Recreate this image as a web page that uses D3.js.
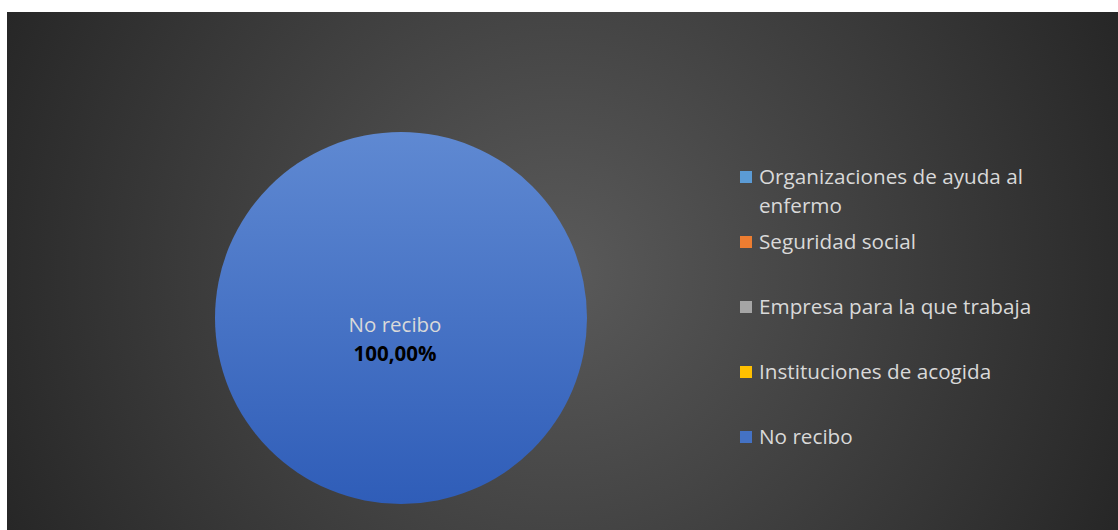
<!DOCTYPE html>
<meta charset="utf-8">
<script src="https://d3js.org/d3.v7.min.js"></script>
<style>
    body { margin: 0; background: #fff; }
    text { font-family: "Open Sans", Lato, sans-serif; }
</style>
<div id="vis"></div>
<script>
    // data
    var cats = ["Organizaciones de ayuda al enfermo", "Seguridad social", "Empresa para la que trabaja", "Instituciones de acogida", "No recibo"];
    var vals = [0, 0, 0, 0, 100];
    var cols = ["#5B9BD5", "#ED7D31", "#A5A5A5", "#FFC000", "#4472C4"];
    // legend lines (wrapped as in the original)
    var legLines = [["Organizaciones de ayuda al", "enfermo"], ["Seguridad social"], ["Empresa para la que trabaja"], ["Instituciones de acogida"], ["No recibo"]];

    var W = 1118, H = 530;
    var svg = d3.select("#vis").append("svg")
        .attr("width", W).attr("height", H);

    var defs = svg.append("defs");
    var bg = defs.append("radialGradient").attr("id", "bg")
        .attr("gradientUnits", "userSpaceOnUse")
        .attr("cx", 560).attr("cy", 270).attr("r", 620);
    bg.append("stop").attr("offset", "0").attr("stop-color", "#5a5a5a");
    bg.append("stop").attr("offset", "1").attr("stop-color", "#262626");

    var pg = defs.append("linearGradient").attr("id", "pg")
        .attr("x1", 0).attr("y1", 0).attr("x2", 0).attr("y2", 1);
    pg.append("stop").attr("offset", "0").attr("stop-color", "#5f89d2");
    pg.append("stop").attr("offset", "1").attr("stop-color", "#2f5db8");

    svg.append("rect")
        .attr("x", 7).attr("y", 12)
        .attr("width", W - 7).attr("height", H - 12)
        .attr("fill", "url(#bg)");

    // pie
    var cx = 401, cy = 318, r = 186;
    var pie = d3.pie().sort(null).value(function (d) { return d; });
    var arc = d3.arc().innerRadius(0).outerRadius(r);
    var g = svg.append("g").attr("transform", "translate(" + cx + "," + cy + ")");
    var arcs = pie(vals);
    g.selectAll("path")
        .data(arcs.filter(function (d) { return d.value > 0; }))
        .enter().append("path")
        .attr("d", arc)
        .attr("fill", function (d) { return d.index == 4 ? "url(#pg)" : cols[d.index]; });

    // slice label
    var fmt = function (v) { return d3.format(".2f")(v).replace(".", ",") + "%"; };
    var tot = d3.sum(vals);
    arcs.filter(function (d) { return d.value > 0; }).forEach(function (d) {
        var p = d.endAngle - d.startAngle >= 2 * Math.PI - 1e-6 ? [-6, 0] : arc.centroid(d);
        g.append("text")
            .attr("x", p[0]).attr("y", p[1] + 14)
            .attr("text-anchor", "middle")
            .attr("font-size", 20.5)
            .attr("fill", "#d9d9d9")
            .text(cats[d.index]);
        g.append("text")
            .attr("x", p[0]).attr("y", p[1] + 43)
            .attr("text-anchor", "middle")
            .attr("font-size", 20.5)
            .attr("font-weight", "bold")
            .attr("fill", "#000")
            .text(fmt(d.value / tot * 100));
    });

    // legend
    var ly = d3.scalePoint().domain(d3.range(cats.length)).range([177, 437]);
    var leg = svg.append("g");
    cats.forEach(function (c, i) {
        var y = ly(i);
        leg.append("rect")
            .attr("x", 740).attr("y", y - 6)
            .attr("width", 12).attr("height", 12)
            .attr("fill", cols[i]);
        legLines[i].forEach(function (t, j) {
            leg.append("text")
                .attr("x", 759).attr("y", y + 7 + j * 29)
                .attr("font-size", 20.7)
                .attr("fill", "#d9d9d9")
                .text(t);
        });
    });
</script>
